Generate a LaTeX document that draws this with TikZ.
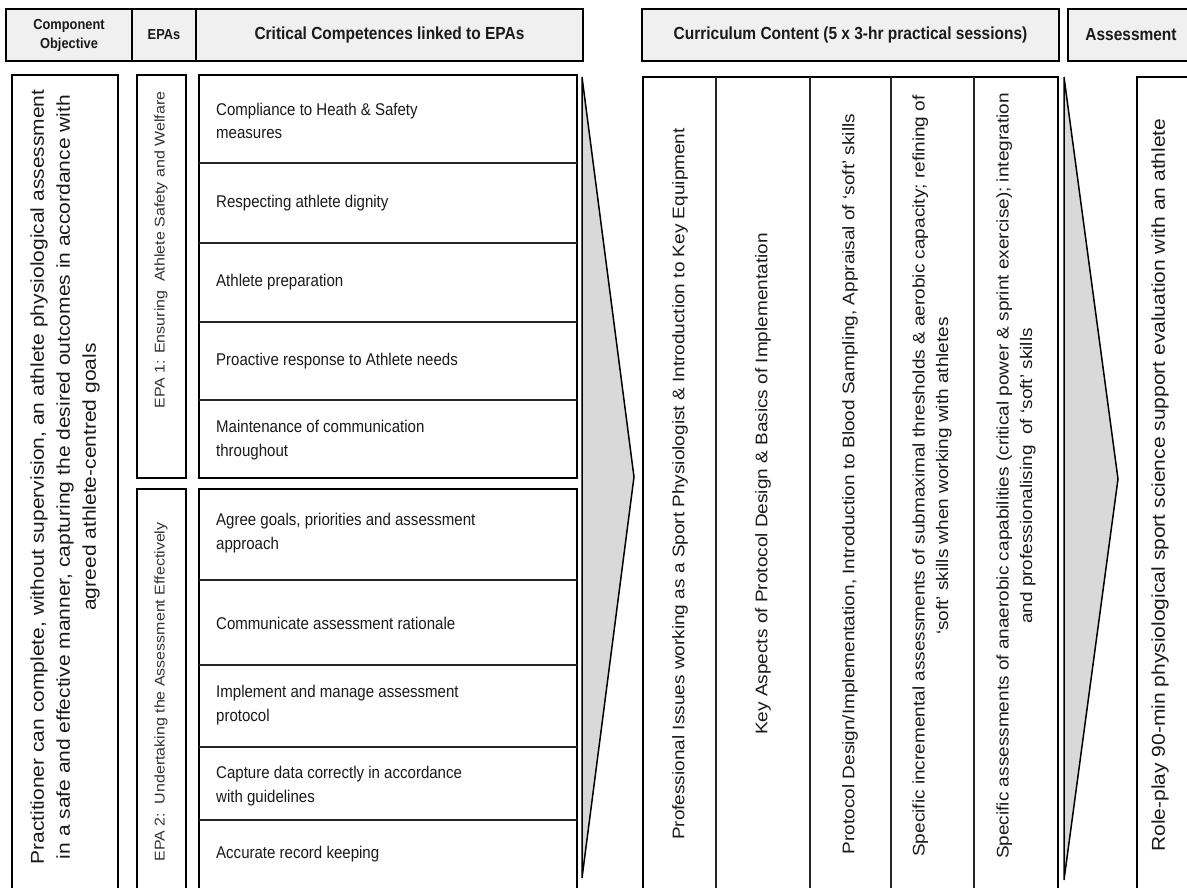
\documentclass[tikz,border=0pt]{standalone}
\usepackage{fontspec}
\setmainfont{Liberation Sans}
\definecolor{hdrfill}{HTML}{F0F0F0}
\definecolor{arrfill}{HTML}{D9D9D9}
\definecolor{ink}{HTML}{1A1A1A}
\definecolor{epaink}{HTML}{333333}
\tikzset{
  hdrbox/.style={draw=black, line width=2pt, fill=hdrfill},
  bodybox/.style={draw=black, line width=2pt},
  cellbox/.style={draw=black, line width=1.6pt},
  cellline/.style={draw=black!85, line width=1.2pt},
  arrowshape/.style={draw=black, line width=1.5pt, fill=arrfill, line join=miter},
  hdrtxt/.style={font=\bfseries\fontsize{17.5}{21}\selectfont, text=ink, inner sep=0pt, xscale=0.885, align=center},
  smallhdr/.style={font=\bfseries\fontsize{14.5}{19}\selectfont},
  comptxt/.style={font=\fontsize{17}{23.8}\selectfont, text=ink, inner sep=0pt, xscale=0.885, anchor=west, align=left},
  vtxt/.style={text=ink, inner sep=0pt, xscale=0.885, rotate=90, align=center},
  objfont/.style={font=\fontsize{21}{29.4}\selectfont},
  epafont/.style={font=\fontsize{16}{22}\selectfont, text=epaink},
  curfont/.style={font=\fontsize{19}{26.6}\selectfont},
}
\begin{document}
\begin{tikzpicture}[x=1pt,y=-1pt]
\useasboundingbox (0,0) rectangle (1187,888);
\clip (0,0) rectangle (1187,888);
\fill[white] (0,0) rectangle (1187,888);

% ---------- header row ----------
\draw[hdrbox] (6,9) rectangle (583,61);
\draw[hdrbox] (132,9) -- (132,61) (196,9) -- (196,61);
\draw[hdrbox] (642,9) rectangle (1059,61);
\draw[hdrbox] (1068,9) rectangle (1194,61);
\node[hdrtxt, smallhdr] (hCO) at (69,35) {Component\\Objective};
\node[hdrtxt, smallhdr] (hEPA) at (164,35) {EPAs};
\node[hdrtxt] (hCC) at (389.5,35) {Critical Competences linked to EPAs};
\node[hdrtxt] (hCUR) at (850.5,35) {Curriculum Content (5 x 3-hr practical sessions)};
\node[hdrtxt] (hAS) at (1131,35) {Assessment};

% ---------- component objective ----------
\draw[bodybox] (12,75) rectangle (118,900);
\node[vtxt, objfont] (obj) at (65,477) {Practitioner can complete, without supervision, an athlete physiological assessment\\in a safe and effective manner, capturing the desired outcomes in accordance with\\agreed athlete-centred goals};

% ---------- EPAs ----------
\draw[bodybox] (137,75) rectangle (186,478);
\draw[bodybox] (137,489) rectangle (186,900);
\node[vtxt, epafont] (epa1) at (161,250) {EPA 1: Ensuring\ \ Athlete Safety and Welfare};
\node[vtxt, epafont] (epa2) at (161,692) {EPA 2:\ \ Undertaking the Assessment Effectively};

% ---------- competences ----------
\draw[cellbox] (199,75) rectangle (577,478);
\draw[cellline] (199,163) -- (577,163) (199,243) -- (577,243) (199,322) -- (577,322) (199,400) -- (577,400);
\draw[cellbox] (199,489) rectangle (577,900);
\draw[cellline] (199,580) -- (577,580) (199,665) -- (577,665) (199,747) -- (577,747) (199,820) -- (577,820);

\node[comptxt] (c1) at (216,121) {Compliance to Heath \& Safety\\measures};
\node[comptxt] (c2) at (216,203) {Respecting athlete dignity};
\node[comptxt] (c3) at (216,282.5) {Athlete preparation};
\node[comptxt] (c4) at (216,361) {Proactive response to Athlete needs};
\node[comptxt] (c5) at (216,440) {Maintenance of communication\\throughout};
\node[comptxt] (c6) at (216,533) {Agree goals, priorities and assessment\\approach};
\node[comptxt] (c7) at (216,623) {Communicate assessment rationale};
\node[comptxt] (c8) at (216,705) {Implement and manage assessment\\protocol};
\node[comptxt] (c9) at (216,786) {Capture data correctly in accordance\\with guidelines};
\node[comptxt] (c10) at (216,854) {Accurate record keeping};

% ---------- arrows ----------
\draw[arrowshape] (582,77) -- (634,477) -- (582,878) -- cycle;
\draw[arrowshape] (1064,77) -- (1118,479) -- (1064,880) -- cycle;

% ---------- curriculum ----------
\draw[cellbox] (643,77) rectangle (1058,900);
\draw[cellline] (716,77) -- (716,900) (810,77) -- (810,900) (891,77) -- (891,900) (974,77) -- (974,900);
\node[vtxt, curfont] (k1) at (680,484) {Professional Issues working as a Sport Physiologist \& Introduction to Key Equipment};
\node[vtxt, curfont] (k2) at (763,484) {Key Aspects of Protocol Design \& Basics of Implementation};
\node[vtxt, curfont] (k3) at (850,484) {Protocol Design/Implementation, Introduction to Blood Sampling, Appraisal of ‘soft’ skills};
\node[vtxt, curfont] (k4) at (932,476) {Specific incremental assessments of submaximal thresholds \& aerobic capacity; refining of\\‘soft’ skills when working with athletes};
\node[vtxt, curfont] (k5) at (1016,476) {Specific assessments of anaerobic capabilities (critical power \& sprint exercise); integration\\and professionalising\ \ of ‘soft’ skills};

% ---------- assessment ----------
\draw[bodybox] (1137,77) rectangle (1200,900);
\node[vtxt, objfont] (ra) at (1160,485) {Role-play 90-min physiological sport science support evaluation with an athlete};
\end{tikzpicture}
\end{document}
